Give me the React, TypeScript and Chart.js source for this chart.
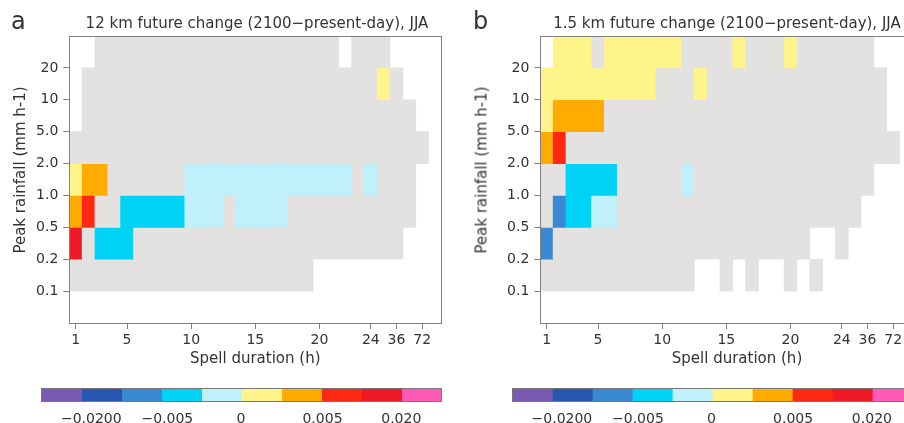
import React, { useEffect, useRef } from 'react';
import { Chart, registerables } from 'chart.js';

Chart.register(...registerables);

// ---------- data ----------
// x categories: spell duration (h); only some are labelled on the axis
const durationLabels = ['1', '2', '3', '4', '5', '6', '7', '8', '9', '10', '11', '12', '13', '14', '15', '16', '17', '18', '19', '20', '21', '22', '23', '24', '30', '36', '48', '72', '96'];
const durationTicks = ['1', '5', '10', '15', '20', '24', '36', '72'];
// y: peak rainfall class boundaries (bottom to top)
const rainfallTicks = ['0.1', '0.2', '0.5', '1.0', '2.0', '5.0', '10', '20'];

// colour classes of the colour bar (index 0..9)
const classColors = ['#7b5ab4', '#2757b0', '#3a88d2', '#00d2f5', '#c0f0fb', '#fff48a', '#ffab00', '#ff2812', '#ef1a25', '#ff5ab5'];
const greyColor = '#e3e2e0';
const cbTickPos = [1.24, 3.14, 4.98, 7.02, 8.99];
const cbTickLabels = ['\u22120.0200', '\u22120.005', '0', '0.005', '0.020'];

// Cell classes: 'g' = not significant (grey), '.' = no data, digit = colour class.
// Rows listed from top (>20 mm/h) down to 0.1-0.2 mm/h; columns follow durationLabels.
const panelA = [
  '..ggggggggggggggggggg.ggg....',
  '.ggggggggggggggggggggggg5g...',
  '.gggggggggggggggggggggggggg..',
  'gggggggggggggggggggggggggggg.',
  '566gggggg4444444444444g4ggg..',
  '67gg33333444g4444gggggggggg..',
  '8g333ggggggggggggggggggggg...',
  'ggggggggggggggggggg..........',
];
const panelB = [
  '.555g555555gggg5ggg5gggggg...',
  '555555555ggg5gggggggggggggg..',
  '56666gggggggggggggggggggggg..',
  '67gggggggggggggggggggggggggg.',
  'gg3333ggggg4gggggggggggggg...',
  'g23344ggggggggggggggggggg....',
  '2gggggggggggggggggggg..g.....',
  'gggggggggggg..g.g..g.g.......',
];

// ---------- style ----------
const FONT = '"DejaVu Sans", sans-serif';
const TEXT = '#333333';
const SPINE = '#808080';
const PLOT_TOP = 36;
const PLOT_BOTTOM = 323;
const PLOT_WIDTH = 372.1;
const HM_H = 352;

Chart.defaults.font.family = FONT;
Chart.defaults.color = TEXT;

function spineAxis(position: string, fit: (s: any) => void) {
  return {
    type: 'linear',
    position,
    min: 0,
    max: 1,
    display: true,
    ticks: { display: false },
    grid: { display: false, drawTicks: false },
    border: { display: true, color: SPINE, width: 1, z: 1 },
    afterFit: fit,
  };
}

function Heatmap({ rows, canvasLeft, canvasWidth, plotLeft }: { rows: string[]; canvasLeft: number; canvasWidth: number; plotLeft: number }) {
  const ref = useRef<HTMLCanvasElement>(null);
  useEffect(() => {
    const n = rows.length;
    const datasets = rows.map((row, i) => {
      const r = n - i; // row index: 1 (0.1-0.2) .. 8 (>20)
      const chars = row.split('');
      return {
        data: chars.map((ch) => (ch === '.' ? null : [r, r + 1])),
        backgroundColor: chars.map((ch) => (ch === 'g' ? greyColor : ch === '.' ? 'rgba(0,0,0,0)' : classColors[Number(ch)])),
        borderWidth: 0,
        grouped: false,
        categoryPercentage: 1,
        barPercentage: 1,
        xAxisID: 'x',
        yAxisID: 'y',
      };
    });
    const rightW = canvasWidth - plotLeft - PLOT_WIDTH;
    const chart = new Chart(ref.current as HTMLCanvasElement, {
      type: 'bar',
      data: { labels: durationLabels, datasets: datasets as any },
      options: {
        animation: false,
        responsive: false,
        maintainAspectRatio: false,
        layout: { padding: 0 },
        plugins: { legend: { display: false }, tooltip: { enabled: false }, title: { display: false } },
        scales: {
          x: {
            type: 'category',
            position: 'bottom',
            offset: true,
            grid: {
              offset: false,
              drawOnChartArea: false,
              drawTicks: true,
              tickLength: 6,
              tickWidth: 1,
              tickColor: (c: any) => (durationTicks.includes(durationLabels[c.index]) ? SPINE : 'rgba(0,0,0,0)'),
            },
            border: { display: true, color: SPINE, width: 1, z: 1 },
            ticks: {
              autoSkip: false,
              maxRotation: 0,
              minRotation: 0,
              padding: 2.5,
              font: { size: 14, family: FONT },
              color: TEXT,
              callback: (_v: any, i: number) => (durationTicks.includes(durationLabels[i]) ? durationLabels[i] : ''),
            },
            afterFit: (s: any) => { s.height = HM_H - PLOT_BOTTOM; },
          },
          y: {
            type: 'linear',
            position: 'left',
            min: 0,
            max: 9,
            afterBuildTicks: (s: any) => { s.ticks = rainfallTicks.map((_t, i) => ({ value: i + 1 })); },
            grid: { drawOnChartArea: false, drawTicks: true, tickLength: 6, tickWidth: 1, tickColor: SPINE },
            border: { display: true, color: SPINE, width: 1, z: 1 },
            ticks: {
              padding: 5,
              font: { size: 14, family: FONT },
              color: TEXT,
              callback: (v: any) => rainfallTicks[Number(v) - 1] ?? '',
            },
            afterFit: (s: any) => { s.width = plotLeft; },
          },
          x2: spineAxis('top', (s: any) => { s.height = PLOT_TOP; }),
          y2: spineAxis('right', (s: any) => { s.width = rightW; }),
        } as any,
      },
    });
    return () => chart.destroy();
  }, []);
  return (
    <canvas
      ref={ref}
      width={canvasWidth}
      height={HM_H}
      style={{ position: 'absolute', left: canvasLeft, top: 0, width: canvasWidth, height: HM_H }}
    />
  );
}

const CB_TOP = 380;
const CB_H = 43;

function ColorBar({ canvasLeft, canvasWidth, barLeft }: { canvasLeft: number; canvasWidth: number; barLeft: number }) {
  const ref = useRef<HTMLCanvasElement>(null);
  useEffect(() => {
    const barW = 400;
    const rightW = canvasWidth - barLeft - barW;
    const edge = { display: true, color: '#777777', width: 1, z: 1 };
    const chart = new Chart(ref.current as HTMLCanvasElement, {
      type: 'bar',
      data: {
        labels: [''],
        datasets: classColors.map((c) => ({
          data: [1],
          backgroundColor: c,
          borderWidth: 0,
          barPercentage: 1,
          categoryPercentage: 1,
          xAxisID: 'x',
          yAxisID: 'y',
        })),
      },
      options: {
        indexAxis: 'y',
        animation: false,
        responsive: false,
        maintainAspectRatio: false,
        layout: { padding: 0 },
        plugins: { legend: { display: false }, tooltip: { enabled: false } },
        scales: {
          x: {
            type: 'linear',
            position: 'bottom',
            stacked: true,
            min: 0,
            max: 10,
            afterBuildTicks: (s: any) => { s.ticks = cbTickPos.map((v) => ({ value: v })); },
            ticks: {
              autoSkip: false,
              maxRotation: 0,
              padding: 10,
              font: { size: 14, family: FONT },
              color: TEXT,
              callback: (_v: any, i: number) => cbTickLabels[i],
            },
            grid: { display: false, drawTicks: false },
            border: edge,
            afterFit: (s: any) => { s.height = CB_H - 21; },
          },
          y: {
            type: 'category',
            position: 'left',
            stacked: true,
            ticks: { display: false },
            grid: { display: false, drawTicks: false },
            border: edge,
            afterFit: (s: any) => { s.width = barLeft; },
          },
          x2: { ...spineAxis('top', (s: any) => { s.height = 8.3; }), border: edge },
          y2: { ...spineAxis('right', (s: any) => { s.width = rightW; }), border: edge },
        } as any,
      },
    });
    return () => chart.destroy();
  }, []);
  return (
    <canvas
      ref={ref}
      width={canvasWidth}
      height={CB_H}
      style={{ position: 'absolute', left: canvasLeft, top: CB_TOP, width: canvasWidth, height: CB_H }}
    />
  );
}

function Label({ text, x, y, size, anchor = 'middle' }: { text: string; x: number; y: number; size: number; anchor?: string }) {
  // y is the text baseline
  return (
    <div
      style={{
        position: 'absolute',
        left: x,
        top: y - 0.846 * size,
        fontSize: size,
        lineHeight: `${size}px`,
        fontFamily: FONT,
        color: TEXT,
        whiteSpace: 'nowrap',
        transform: anchor === 'middle' ? 'translateX(-50%)' : undefined,
      }}
    >
      {text}
    </div>
  );
}

function VLabel({ text, cx, cy, size }: { text: string; cx: number; cy: number; size: number }) {
  return (
    <div
      style={{
        position: 'absolute',
        left: cx,
        top: cy,
        fontSize: size,
        lineHeight: `${size}px`,
        fontFamily: FONT,
        color: TEXT,
        whiteSpace: 'nowrap',
        transform: 'translate(-50%, -50%) rotate(-90deg)',
      }}
    >
      {text}
    </div>
  );
}

export default function App() {
  return (
    <div style={{ position: 'absolute', left: 0, top: 0, width: 904, height: 423, overflow: 'hidden', background: '#ffffff' }}>
      <Heatmap rows={panelA} canvasLeft={0} canvasWidth={450} plotLeft={69.3} />
      <Heatmap rows={panelB} canvasLeft={450} canvasWidth={470} plotLeft={90.3} />
      <ColorBar canvasLeft={0} canvasWidth={450} barLeft={41.7} />
      <ColorBar canvasLeft={450} canvasWidth={470} barLeft={62.3} />
      <Label text="a" x={11} y={29} size={24} anchor="start" />
      <Label text="b" x={473} y={29} size={24} anchor="start" />
      <Label text={'12 km future change (2100\u2212present-day), JJA'} x={257} y={28.3} size={15} />
      <Label text={'1.5 km future change (2100\u2212present-day), JJA'} x={727} y={28.3} size={15} />
      <VLabel text="Peak rainfall (mm h-1)" cx={19.5} cy={170} size={15} />
      <VLabel text="Peak rainfall (mm h-1)" cx={482.3} cy={170} size={15} />
      <Label text="Spell duration (h)" x={255.3} y={363.5} size={15} />
      <Label text="Spell duration (h)" x={737} y={363.5} size={15} />
    </div>
  );
}
